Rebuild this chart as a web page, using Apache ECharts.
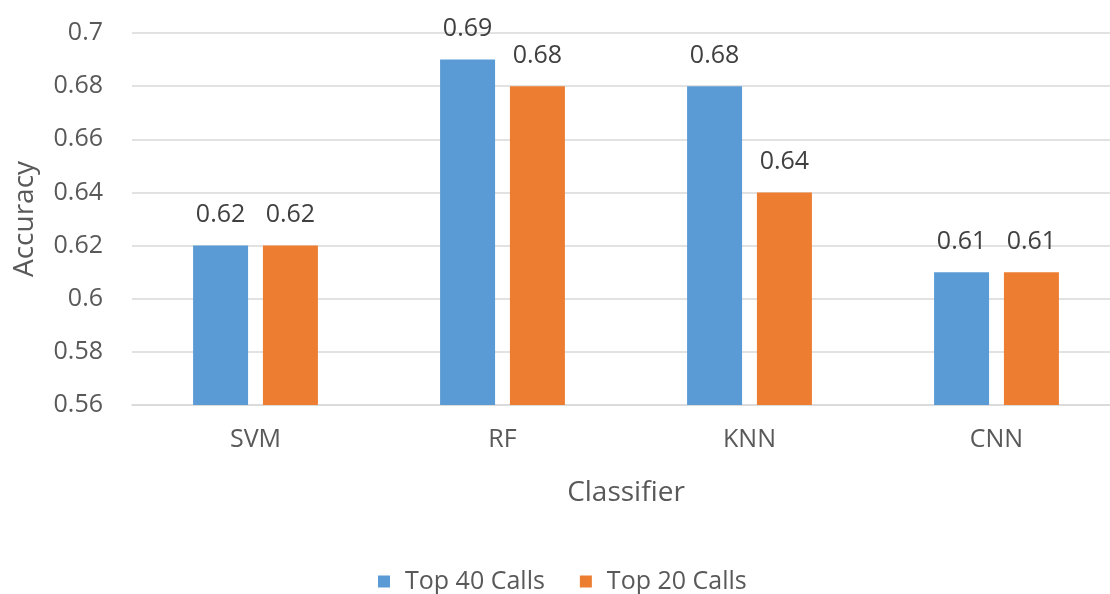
<!DOCTYPE html>
<html>
<head>
<meta charset="utf-8">
<script src="https://cdn.jsdelivr.net/npm/echarts@6/dist/echarts.min.js"></script>
<style>
  html, body { margin: 0; padding: 0; background: #ffffff; overflow: hidden; }
  #chart { width: 1110px; height: 594px; }
</style>
</head>
<body>
<div id="chart"></div>
<script>
// Classifier accuracy for the two call-count settings
const categories = ['SVM', 'RF', 'KNN', 'CNN'];
const top40Calls = [0.62, 0.69, 0.68, 0.61];
const top20Calls = [0.62, 0.68, 0.64, 0.61];
const seriesNames = ['Top 40 Calls', 'Top 20 Calls'];

const FONT = '"Open Sans", sans-serif';
const TICK_SIZE = 25;
const TITLE_SIZE = 28;
const chart = echarts.init(document.getElementById('chart'), null, { renderer: 'canvas' });

const labelStyle = {
  show: true,
  position: 'top',
  distance: 18,
  color: '#404040',
  fontFamily: FONT,
  fontSize: TICK_SIZE,
  formatter: p => String(p.value)
};

chart.setOption({
  animation: false,
  backgroundColor: '#ffffff',
  textStyle: { fontFamily: FONT },
  // the plot area runs a little past the right edge of the canvas
  grid: {
    left: 132, width: 988, top: 33, bottom: 189,
    containLabel: false,
    outerBoundsMode: 'none'
  },
  legend: {
    data: seriesNames,
    bottom: 0,
    padding: 0,
    left: 378,
    icon: 'rect',
    itemWidth: 12,
    itemHeight: 12,
    itemGap: 35,
    textStyle: {
      color: '#595959', fontFamily: FONT, fontSize: TICK_SIZE,
      padding: [0, 0, 0, 10]
    }
  },
  xAxis: {
    type: 'category',
    data: categories,
    name: 'Classifier',
    nameLocation: 'middle',
    nameGap: 74,
    nameTextStyle: { color: '#595959', fontFamily: FONT, fontSize: TITLE_SIZE },
    axisLine: { show: true, lineStyle: { color: '#d9d9d9', width: 1.5 } },
    axisTick: { show: false },
    axisLabel: { color: '#595959', fontFamily: FONT, fontSize: TICK_SIZE, margin: 22 }
  },
  yAxis: {
    type: 'value',
    min: 0.56,
    max: 0.7,
    interval: 0.02,
    name: 'Accuracy',
    nameLocation: 'middle',
    nameRotate: 90,
    nameGap: 93,
    nameTextStyle: { color: '#595959', fontFamily: FONT, fontSize: TITLE_SIZE },
    axisLine: { show: false },
    axisTick: { show: false },
    axisLabel: {
      color: '#595959', fontFamily: FONT, fontSize: TICK_SIZE, margin: 29,
      formatter: v => String(parseFloat(v.toFixed(2)))
    },
    splitLine: { show: true, lineStyle: { color: '#d9d9d9', width: 1.5 } }
  },
  series: [
    {
      name: seriesNames[0],
      type: 'bar',
      data: top40Calls,
      barWidth: 55,
      barGap: '27%',
      itemStyle: { color: '#5B9BD5' },
      label: labelStyle
    },
    {
      name: seriesNames[1],
      type: 'bar',
      data: top20Calls,
      barWidth: 55,
      barGap: '27%',
      itemStyle: { color: '#ED7D31' },
      label: labelStyle
    }
  ]
});
</script>
</body>
</html>
